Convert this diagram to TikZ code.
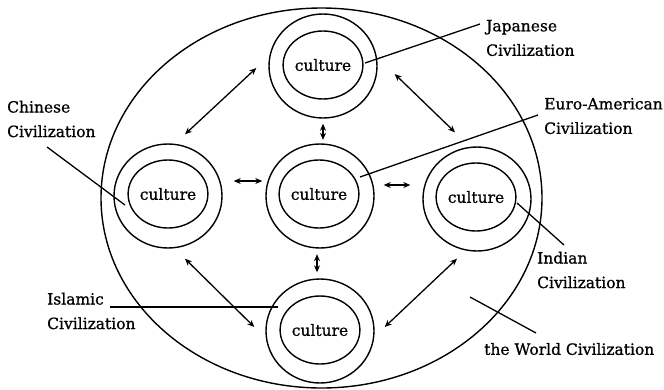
\documentclass[tikz,border=0pt]{standalone}
\usepackage{fontspec}
\setmainfont{DejaVu Serif}[RawFeature={embolden=0.8}]
\usetikzlibrary{shapes.geometric,arrows.meta}

\begin{document}
\begin{tikzpicture}[x=1pt,y=-1pt,
  every node/.style={font=\fontsize{15.5}{24.5}\selectfont},
  ring/.style={draw,ellipse,line width=1.4pt,minimum width=108pt,minimum height=104pt,inner sep=0pt},
  core/.style={draw,ellipse,line width=1.4pt,minimum width=72pt,minimum height=68pt,inner sep=0pt},
  civ/.style={align=left,anchor=west,inner sep=0pt},
  link/.style={line width=1.3pt},
  both/.style={{Stealth[length=7pt,width=6pt]}-{Stealth[length=7pt,width=6pt]},line width=1.3pt}]

  \useasboundingbox (0,0) rectangle (664,389);

  % the world
  \node[draw,ellipse,line width=1.4pt,minimum width=441pt,minimum height=380pt] (world) at (321.5,198) {};

  % the five civilizations, ring and culture
  \node[ring] (jp) at (323,66) {};
  \node[core] (jpc) at (323,65) {culture};
  \node[ring] (ch) at (168,196) {};
  \node[core] (chc) at (168,194) {culture};
  \node[ring] (eu) at (320,196) {};
  \node[core] (euc) at (319,194) {culture};
  \node[ring] (in) at (477,199) {};
  \node[core] (inc) at (476,197) {culture};
  \node[ring] (is) at (320,331) {};
  \node[core] (isc) at (320,330) {culture};

  % exchange between them
  \draw[both] ([shift={(-12,2)}]jp.west) -- ([shift={(17,-9)}]ch.north);
  \draw[both] ([shift={(17,8)}]jp.east) -- ([shift={(-22,-14)}]in.north);
  \draw[both] ([shift={(17,10)}]ch.south) -- ([shift={(-11,-4)}]is.west);
  \draw[both] ([shift={(-20,7)}]in.south) -- ([shift={(10,-4)}]is.east);
  \draw[both] ([shift={(0,5)}]jp.south) -- ([shift={(3,-3.5)}]eu.north);
  \draw[both] ([shift={(-3,5.5)}]eu.south) -- ([shift={(-3,-6)}]is.north);
  \draw[both] ([shift={(11,-15)}]ch.east) -- ([shift={(-3,-15)}]eu.west);
  \draw[both] ([shift={(9,-11)}]eu.east) -- ([shift={(-12,-14)}]in.west);

  % labels
  \node[civ] (jptext) at (486,38) {Japanese\\Civilization};
  \node[civ] (eutext) at (544,116) {Euro-American\\Civilization};
  \node[civ] (chtext) at (7,119) {Chinese\\Civilization};
  \node[civ] (istext) at (47,311) {Islamic\\Civilization};
  \node[civ] (intext) at (537,270) {Indian\\Civilization};
  \node[civ] (wotext) at (484,349) {the World Civilization};

  \coordinate (jpa) at (365,63);
  \coordinate (eua) at (360,177);
  \coordinate (cha) at (125,205);
  \coordinate (isa) at (278,307);
  \coordinate (ina) at (517,203);
  \coordinate (woa) at (470,297);

  \draw[link] (jpa) -- ([shift={(-6,-14)}]jptext.west);
  \draw[link] (eua) -- ([shift={(-6,-1)}]eutext.west);
  \draw[link] (cha) -- ([shift={(40,28)}]chtext.west);
  \draw[link] (isa) -- ([shift={(63,-4)}]istext.west);
  \draw[link] (ina) -- ([shift={(27,-25)}]intext.west);
  \draw[link] (woa) -- ([shift={(52,-16)}]wotext.west);

\end{tikzpicture}
\end{document}
